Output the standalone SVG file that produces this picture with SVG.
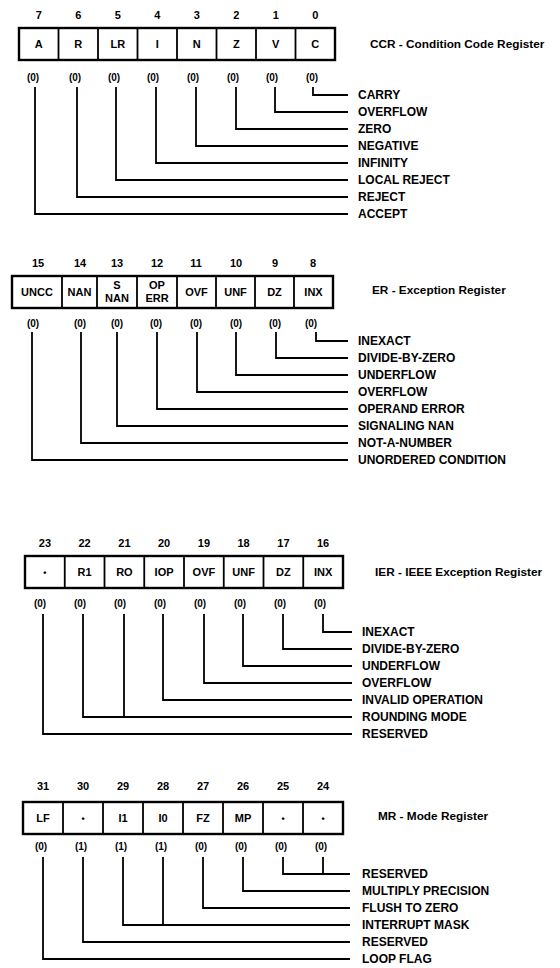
<svg xmlns="http://www.w3.org/2000/svg" width="560" height="968" viewBox="0 0 560 968">
<style>
.t{font-family:"Liberation Sans",Arial,sans-serif;font-weight:bold;fill:#000}
.c{text-anchor:middle}
.bit{font-size:11px}
.cell{font-size:11px}
.z{font-size:10px}
.lab{font-size:12px}
.ttl{font-size:11.8px}
.box{fill:#fff;stroke:#000;stroke-width:2.4}
.dv{fill:none;stroke:#000;stroke-width:1.8}
.ln{fill:none;stroke:#000;stroke-width:1.8}
</style>
<rect width="560" height="968" fill="#fff"/>

<!-- CCR -->
<g id="ccr">
<rect class="box" x="19" y="28" width="316" height="32"/>
<path class="dv" d="M58.5,28V60M98,28V60M137.5,28V60M177,28V60M216.5,28V60M256,28V60M295.5,28V60"/>
<g class="t c bit">
<text x="38.75" y="19">7</text><text x="78.25" y="19">6</text><text x="117.75" y="19">5</text><text x="157.25" y="19">4</text>
<text x="196.75" y="19">3</text><text x="236.25" y="19">2</text><text x="275.75" y="19">1</text><text x="315.25" y="19">0</text>
</g>
<g class="t c cell">
<text x="38.75" y="48">A</text><text x="78.25" y="48">R</text><text x="117.75" y="48">LR</text><text x="157.25" y="48">I</text>
<text x="196.75" y="48">N</text><text x="236.25" y="48">Z</text><text x="275.75" y="48">V</text><text x="315.25" y="48">C</text>
</g>
<g class="t c z">
<text x="33" y="80.5">(0)</text><text x="75" y="80.5">(0)</text><text x="114" y="80.5">(0)</text><text x="153" y="80.5">(0)</text>
<text x="193" y="80.5">(0)</text><text x="233" y="80.5">(0)</text><text x="272" y="80.5">(0)</text><text x="312" y="80.5">(0)</text>
</g>
<text class="t ttl" x="370" y="48">CCR - Condition Code Register</text>
</g>
<g id="ccr-labels" class="t lab">
<text x="358" y="99">CARRY</text><text x="358" y="116">OVERFLOW</text><text x="358" y="133">ZERO</text><text x="358" y="150">NEGATIVE</text>
<text x="358" y="167">INFINITY</text><text x="358" y="184">LOCAL REJECT</text><text x="358" y="201">REJECT</text><text x="358" y="218">ACCEPT</text>
</g>

<!-- ER -->
<g id="er">
<rect class="box" x="12" y="276" width="321" height="32"/>
<path class="dv" d="M62,276V308M97,276V308M137,276V308M177,276V308M216,276V308M255,276V308M294,276V308"/>
<g class="t c bit">
<text x="38" y="267">15</text><text x="80" y="267">14</text><text x="117" y="267">13</text><text x="157" y="267">12</text>
<text x="196" y="267">11</text><text x="236" y="267">10</text><text x="275" y="267">9</text><text x="313" y="267">8</text>
</g>
<g class="t c cell">
<text x="37" y="296">UNCC</text><text x="79.5" y="296">NAN</text>
<text x="117" y="289">S</text><text x="117" y="302">NAN</text>
<text x="157" y="289">OP</text><text x="157" y="302">ERR</text>
<text x="196.5" y="296">OVF</text><text x="235.5" y="296">UNF</text><text x="274.5" y="296">DZ</text><text x="313.5" y="296">INX</text>
</g>
<g class="t c z">
<text x="33" y="326.5">(0)</text><text x="80" y="326.5">(0)</text><text x="117" y="326.5">(0)</text><text x="156" y="326.5">(0)</text>
<text x="196" y="326.5">(0)</text><text x="236" y="326.5">(0)</text><text x="275" y="326.5">(0)</text><text x="311" y="326.5">(0)</text>
</g>
<text class="t ttl" x="372" y="294">ER - Exception Register</text>
</g>
<g id="er-labels" class="t lab">
<text x="358" y="345">INEXACT</text><text x="358" y="362">DIVIDE-BY-ZERO</text><text x="358" y="379">UNDERFLOW</text><text x="358" y="396">OVERFLOW</text>
<text x="358" y="413">OPERAND ERROR</text><text x="358" y="430">SIGNALING NAN</text><text x="358" y="447">NOT-A-NUMBER</text><text x="358" y="464">UNORDERED CONDITION</text>
</g>

<!-- IER -->
<g id="ier">
<rect class="box" x="25" y="556" width="318" height="32"/>
<path class="dv" d="M64.75,556V588M104.5,556V588M144.25,556V588M184,556V588M223.75,556V588M263.5,556V588M303.25,556V588"/>
<g class="t c bit">
<text x="44.9" y="547">23</text><text x="84.6" y="547">22</text><text x="124.4" y="547">21</text><text x="164.1" y="547">20</text>
<text x="203.9" y="547">19</text><text x="243.6" y="547">18</text><text x="283.4" y="547">17</text><text x="323.1" y="547">16</text>
</g>
<g class="t c cell">
<text x="44.9" y="576" font-size="9">•</text><text x="84.6" y="576">R1</text><text x="124.4" y="576">RO</text><text x="164.1" y="576">IOP</text>
<text x="203.9" y="576">OVF</text><text x="243.6" y="576">UNF</text><text x="283.4" y="576">DZ</text><text x="323.1" y="576">INX</text>
</g>
<g class="t c z">
<text x="40" y="606.5">(0)</text><text x="80" y="606.5">(0)</text><text x="120" y="606.5">(0)</text><text x="160" y="606.5">(0)</text>
<text x="200" y="606.5">(0)</text><text x="240" y="606.5">(0)</text><text x="280" y="606.5">(0)</text><text x="320" y="606.5">(0)</text>
</g>
<text class="t ttl" x="375" y="576">IER - IEEE Exception Register</text>
</g>
<g id="ier-labels" class="t lab">
<text x="362" y="636">INEXACT</text><text x="362" y="653">DIVIDE-BY-ZERO</text><text x="362" y="670">UNDERFLOW</text><text x="362" y="687">OVERFLOW</text>
<text x="362" y="704">INVALID OPERATION</text><text x="362" y="721">ROUNDING MODE</text><text x="362" y="738">RESERVED</text>
</g>

<!-- MR -->
<g id="mr">
<rect class="box" x="23" y="802" width="320" height="32"/>
<path class="dv" d="M63,802V834M103,802V834M143,802V834M183,802V834M223,802V834M263,802V834M303,802V834"/>
<g class="t c bit">
<text x="43" y="790">31</text><text x="83" y="790">30</text><text x="123" y="790">29</text><text x="163" y="790">28</text>
<text x="203" y="790">27</text><text x="243" y="790">26</text><text x="283" y="790">25</text><text x="323" y="790">24</text>
</g>
<g class="t c cell">
<text x="43" y="822">LF</text><text x="83" y="822" font-size="9">•</text><text x="123" y="822">I1</text><text x="163" y="822">I0</text>
<text x="203" y="822">FZ</text><text x="243" y="822">MP</text><text x="283" y="822" font-size="9">•</text><text x="323" y="822" font-size="9">•</text>
</g>
<g class="t c z">
<text x="41" y="849.5">(0)</text><text x="81" y="849.5">(1)</text><text x="121" y="849.5">(1)</text><text x="161" y="849.5">(1)</text>
<text x="201" y="849.5">(0)</text><text x="241" y="849.5">(0)</text><text x="281" y="849.5">(0)</text><text x="321" y="849.5">(0)</text>
</g>
<text class="t ttl" x="378" y="820">MR - Mode Register</text>
</g>
<g id="mr-labels" class="t lab">
<text x="362" y="878">RESERVED</text><text x="362" y="895">MULTIPLY PRECISION</text><text x="362" y="912">FLUSH TO ZERO</text>
<text x="362" y="929">INTERRUPT MASK</text><text x="362" y="946">RESERVED</text><text x="362" y="963">LOOP FLAG</text>
</g>

<!-- connectors -->
<g id="connectors" class="ln">
<path d="M313,87V95H348M275,87V112H348M236,87V129H348M196,87V146H348M156,87V163H348M116,87V180H348M77,87V197H348M35,87V214H348"/>
<path d="M316,332V341H348M276,332V358H348M236,332V375H348M197,332V392H348M157,332V409H348M117,332V426H348M81,332V443H348M32,332V460H348"/>
<path d="M323,614V632H352M283,614V649H352M243,614V666H352M204,614V683H352M163,614V700H352M124,614V717M83,614V717H352M43,614V734H352"/>
<path d="M283,857V874H350M323,857V874M243,857V891H350M203,857V908H350M163,857V925M123,857V925H350M83,857V942H350M43,857V959H350"/>
</g>
</svg>
